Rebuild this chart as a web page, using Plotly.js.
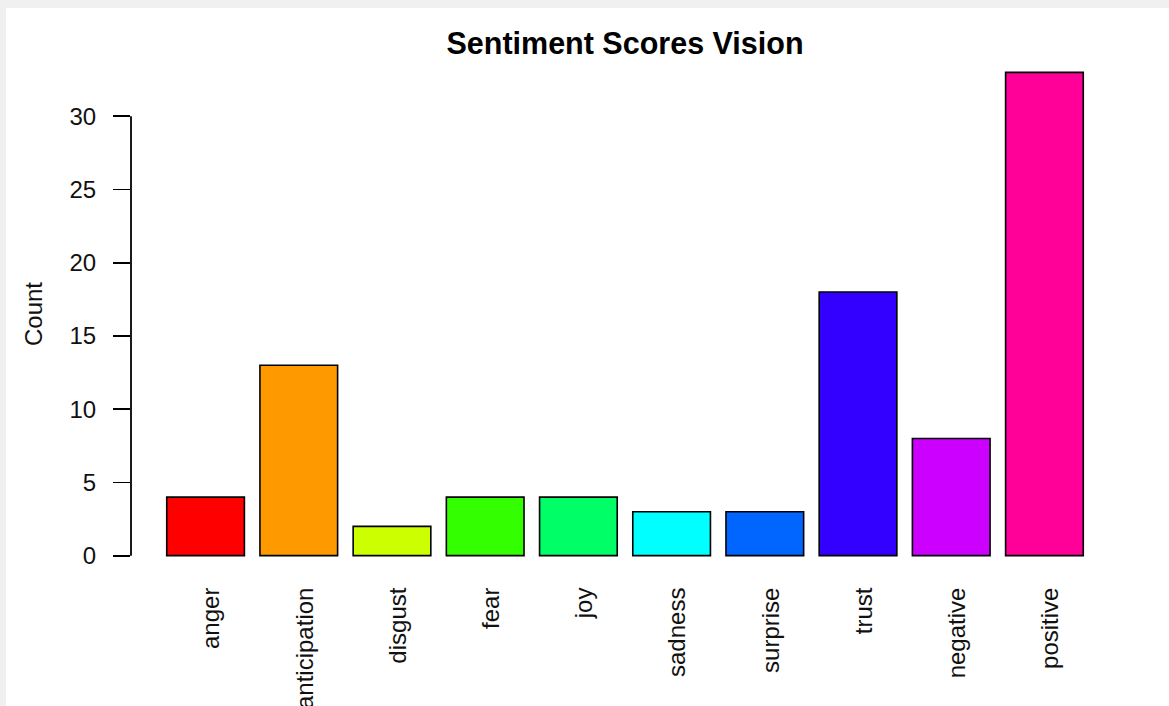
<!DOCTYPE html>
<html>
<head>
<meta charset="utf-8">
<script src="https://cdn.plot.ly/plotly-3.0.1.min.js"></script>
<style>
  html, body { margin: 0; padding: 0; background: #f0f0f0; width: 1169px; height: 706px; overflow: hidden; }
  #chart { position: absolute; left: 6px; top: 8px; width: 1163px; height: 698px; background: #ffffff; }
</style>
</head>
<body>
<div id="chart"></div>
<script>
const categories = ["anger", "anticipation", "disgust", "fear", "joy", "sadness", "surprise", "trust", "negative", "positive"];
const counts = [4, 13, 2, 4, 4, 3, 3, 18, 8, 33];
const barColors = ["#FF0000", "#FF9900", "#CCFF00", "#33FF00", "#00FF66", "#00FFFF", "#0066FF", "#3300FF", "#CC00FF", "#FF0099"];
const yTicks = [0, 5, 10, 15, 20, 25, 30];
const chartTitle = "Sentiment Scores Vision";
const yTitle = "Count";

const FONT = "Liberation Sans, Arial, Helvetica, sans-serif";

const trace = {
  type: "bar",
  x: categories,
  y: counts,
  marker: { color: barColors, line: { color: "#000000", width: 1.6 } },
  hoverinfo: "x+y"
};

const yMax = Math.max(...counts);
const layout = {
  width: 1163,
  height: 698,
  margin: { l: 125, r: 50, t: 45, b: 131 },
  paper_bgcolor: "#ffffff",
  plot_bgcolor: "#ffffff",
  font: { family: FONT, size: 24, color: "#111111" },
  showlegend: false,
  bargap: 0.1667,
  title: {
    text: "<b>" + chartTitle + "</b>",
    font: { family: FONT, size: 30.5, color: "#000000" },
    x: 0.5, xref: "paper", xanchor: "center",
    y: 0.95, yref: "container", yanchor: "middle"
  },
  xaxis: {
    type: "category",
    range: [-0.8, categories.length - 0.2],
    showgrid: false, zeroline: false, showline: false,
    ticks: "outside", ticklen: 2, tickcolor: "rgba(0,0,0,0)",
    tickangle: -90,
    ticklabelshift: 6,
    tickfont: { family: FONT, size: 24, color: "#111111" },
    fixedrange: true
  },
  yaxis: {
    range: [-yMax * 0.04, yMax * 1.04],
    showgrid: false, zeroline: false, showline: false,
    tickvals: yTicks,
    ticktext: yTicks.map(String),
    ticks: "outside", ticklen: 17, tickwidth: 1.8, tickcolor: "#000000",
    ticklabelstandoff: 12,
    tickfont: { family: FONT, size: 24, color: "#111111" },
    title: { text: yTitle, font: { family: FONT, size: 24, color: "#111111" }, standoff: 20 },
    automargin: false,
    fixedrange: true
  },
  shapes: [{
    type: "line", xref: "paper", yref: "y",
    x0: 0, x1: 0, y0: yTicks[0], y1: yTicks[yTicks.length - 1],
    line: { color: "#000000", width: 1.8 }
  }]
};

Plotly.newPlot("chart", [trace], layout, { displayModeBar: false, staticPlot: true });
</script>
</body>
</html>
